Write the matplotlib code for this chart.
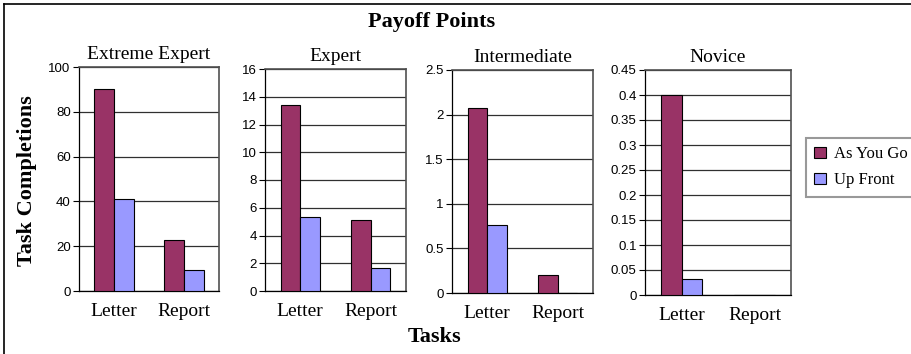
import matplotlib.pyplot as plt
import numpy as np
from matplotlib.lines import Line2D

# data
tasks = ["Letter", "Report"]
levels = ["Extreme Expert", "Expert", "Intermediate", "Novice"]
as_you_go = [[90.4, 22.8], [13.4, 5.15], [2.07, 0.2], [0.4, 0.0]]
up_front = [[41.1, 9.3], [5.36, 1.68], [0.76, 0.0], [0.032, 0.0]]
y_max = [100, 16, 2.5, 0.45]
y_step = [20, 2, 0.5, 0.05]
y_labels = [
    ["0", "20", "40", "60", "80", "100"],
    ["0", "2", "4", "6", "8", "10", "12", "14", "16"],
    ["0", "0.5", "1", "1.5", "2", "2.5"],
    ["0", "0.05", "0.1", "0.15", "0.2", "0.25", "0.3", "0.35", "0.4", "0.45"],
]

c_ayg = "#993366"
c_uf = "#9999ff"
serif = "Liberation Serif"
sans = "Liberation Sans"

fig = plt.figure(figsize=(9.11, 3.54), dpi=100)

# axes boxes in pixels (left, top, right, bottom)
boxes = [(79, 67, 219, 291), (265, 69, 406, 291),
         (452, 70, 593, 293), (645, 70, 791, 295)]

W, H = 911, 354
x = np.arange(len(tasks))
bw = 0.28
for i, (l, t, r, b) in enumerate(boxes):
    ax = fig.add_axes([l / W, 1 - b / H, (r - l) / W, (b - t) / H])
    ax.bar(x - bw / 2, as_you_go[i], bw, color=c_ayg, edgecolor="black",
           linewidth=0.8, label="As You Go", zorder=3)
    ax.bar(x + bw / 2, up_front[i], bw, color=c_uf, edgecolor="black",
           linewidth=0.8, label="Up Front", zorder=3)
    ticks = np.arange(len(y_labels[i])) * y_step[i]
    ax.set_yticks(ticks, y_labels[i], fontfamily=sans, fontsize=9.5)
    ax.set_ylim(0, y_max[i])
    ax.set_xlim(-0.5, 1.5)
    ax.set_xticks(x, tasks, fontfamily=serif, fontsize=14)
    ax.tick_params(axis="x", length=0, pad=9)
    ax.tick_params(axis="y", length=4, width=0.8, pad=2, color="black")
    ax.yaxis.grid(True, color="#303030", linewidth=0.9, zorder=0)
    for s in ["top", "right"]:
        ax.spines[s].set_color("#505050")
        ax.spines[s].set_linewidth(1.2)
    for s in ["left", "bottom"]:
        ax.spines[s].set_color("black")
        ax.spines[s].set_linewidth(0.9)
    ax.set_title(levels[i], fontfamily=serif, fontsize=14, pad=6)
    if i == 0:
        handles, labels = ax.get_legend_handles_labels()

leg = fig.legend(handles, labels, loc="upper left",
                 bbox_to_anchor=(806 / W, 1 - 138 / H),
                 prop={"family": serif, "size": 12}, frameon=True,
                 fancybox=False, edgecolor="#808080", handlelength=0.7,
                 handleheight=0.7, handletextpad=0.5, labelspacing=0.6,
                 borderpad=0.5, borderaxespad=0)
leg.get_frame().set_linewidth(1.5)

fig.text(432 / W, 1 - 22 / H, "Payoff Points", fontfamily=serif,
         fontsize=16, fontweight="bold", ha="center", va="center")
fig.text(434 / W, 1 - 337 / H, "Tasks", fontfamily=serif,
         fontsize=16, fontweight="bold", ha="center", va="center")
fig.text(27 / W, 1 - 181 / H, "Task Completions", fontfamily=serif,
         fontsize=16, fontweight="bold", ha="center", va="center",
         rotation=90)

# outer chart border (left and top edges)
fig.add_artist(Line2D([4 / W, 4 / W], [0, 1 - 4 / H], color="black",
                      linewidth=1.2, transform=fig.transFigure))
fig.add_artist(Line2D([4 / W, 1], [1 - 4 / H, 1 - 4 / H], color="black",
                      linewidth=1.2, transform=fig.transFigure))

fig.savefig("out.png", dpi=100)
